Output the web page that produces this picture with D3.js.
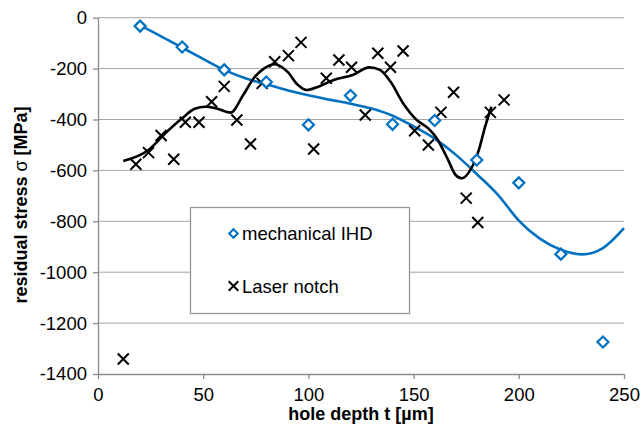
<!DOCTYPE html>
<html>
<head>
<meta charset="utf-8">
<script src="https://cdn.jsdelivr.net/npm/d3@7"></script>
<style>
body { margin: 0; background: #fff; }
text { font-family: "Liberation Sans", Arial, sans-serif; }
</style>
</head>
<body>
<div id="chart-container"></div>
<script>
// mechanical IHD measurements
const ihdDepth = [20, 40, 60, 80, 100, 120, 140, 160, 180, 200, 220, 240];
const ihdStress = [-33, -115, -205, -253, -421, -306, -419, -404, -559, -649, -929, -1274];

// laser notch measurements
const laserDepth = [12, 18, 24, 30, 36, 41.5, 48, 54, 60, 66, 72.5, 78, 84, 90.5, 96.5, 102.5, 108.5,
    114.5, 120.5, 127, 133, 139, 145, 150.5, 157, 163, 169, 175, 180.5, 186.5, 193];
const laserStress = [-1341, -576, -530, -463, -556, -411, -411, -330, -270, -402, -496, -258, -173, -149, -97,
    -516, -238, -166, -195, -382, -140, -195, -131, -444, -500, -372, -293, -709, -805, -372, -323];

// smoothed lines
const ihdTrendX = [20, 30, 40, 50, 60, 70, 80, 90, 100, 110, 120, 130, 140, 150, 160, 170, 180, 190, 200, 210, 220, 230, 240, 250];
const ihdTrendY = [-30, -73, -118, -162, -205, -238, -262, -285, -305, -322, -338, -357, -385, -427, -475, -538, -614, -695, -797, -868, -912, -930, -905, -827];

const laserTrendX = [12, 24, 32, 40, 46, 51, 56, 63, 69, 74, 79, 84, 90, 95, 99, 105, 112, 121, 129, 134, 139, 145,
    151.5, 157, 161, 166, 170, 173, 177, 181, 184, 187];
const laserTrendY = [-563, -520, -454, -395, -358, -350, -356, -373, -304, -238, -199, -183, -212, -264, -284, -270,
    -245, -225, -195, -205, -251, -336, -402, -435, -474, -552, -618, -631, -598, -520, -428, -350];

const xTicks = [0, 50, 100, 150, 200, 250];
const yTicks = [0, -200, -400, -600, -800, -1000, -1200, -1400];
const seriesNames = ["mechanical IHD", "Laser notch"];

const margin = {top: 17.7, right: 16, bottom: 55, left: 98};
const width = 640 - margin.left - margin.right;
const height = 429 - margin.top - margin.bottom;

const x = d3.scaleLinear()
    .domain([0, 250])
    .range([0, width]);

const y = d3.scaleLinear()
    .domain([-1400, 0])
    .range([height, 0]);

const svg = d3.select("#chart-container")
    .append("svg")
    .attr("width", 640)
    .attr("height", 429)
    .append("g")
    .attr("transform", `translate(${margin.left},${margin.top})`);

// gridlines
svg.append("g")
    .selectAll("line")
    .data(yTicks.filter(d => d !== -1400))
    .join("line")
    .attr("x1", 0)
    .attr("x2", width)
    .attr("y1", d => y(d))
    .attr("y2", d => y(d))
    .attr("stroke", "#a6a6a6")
    .attr("stroke-width", 1);

// plain hyphen minus, no thousands comma
const fmt = d => String(d);

const yAxis = svg.append("g")
    .call(d3.axisLeft(y).tickValues(yTicks).tickFormat(fmt).tickSize(5).tickPadding(6).tickSizeOuter(0));

const xAxis = svg.append("g")
    .attr("transform", `translate(0,${height})`)
    .call(d3.axisBottom(x).tickValues(xTicks).tickFormat(fmt).tickSize(5).tickPadding(9).tickSizeOuter(0));

[xAxis, yAxis].forEach(a => {
    a.select(".domain").attr("stroke", "#8c8c8c").attr("stroke-width", 1.3);
    a.selectAll(".tick line").attr("stroke", "#8c8c8c").attr("stroke-width", 1.3);
    a.selectAll(".tick text")
        .style("font-family", "Liberation Sans, Arial, sans-serif")
        .style("font-size", "18.5px")
        .attr("fill", "#000");
});

// axis titles
svg.append("text")
    .attr("x", width / 2)
    .attr("y", 420 - margin.top)
    .attr("text-anchor", "middle")
    .style("font-size", "18px")
    .style("font-weight", "bold")
    .text("hole depth t [µm]");

const yTitle = svg.append("text")
    .attr("transform", `translate(${27 - margin.left},${205 - margin.top}) rotate(-90)`)
    .attr("text-anchor", "middle")
    .style("font-size", "18px")
    .style("font-weight", "bold");
yTitle.append("tspan").text("residual stress ");
yTitle.append("tspan").style("font-weight", "normal").text("σ");
yTitle.append("tspan").text(" [MPa]");

// smoothed lines
const line = d3.line()
    .x(d => x(d[0]))
    .y(d => y(d[1]))
    .curve(d3.curveMonotoneX);

svg.append("path")
    .datum(d3.zip(ihdTrendX, ihdTrendY))
    .attr("fill", "none")
    .attr("stroke", "#0070c0")
    .attr("stroke-width", 2.6)
    .attr("d", line);

svg.append("path")
    .datum(d3.zip(laserTrendX, laserTrendY))
    .attr("fill", "none")
    .attr("stroke", "#000")
    .attr("stroke-width", 2.6)
    .attr("d", line);

// markers
const diamond = s => `M0,${-s}L${s},0L0,${s}L${-s},0Z`;
const cross = s => `M${-s},${-s}L${s},${s}M${-s},${s}L${s},${-s}`;

svg.append("g")
    .selectAll("path")
    .data(d3.zip(laserDepth, laserStress))
    .join("path")
    .attr("transform", d => `translate(${x(d[0])},${y(d[1])})`)
    .attr("d", cross(5.5))
    .attr("stroke", "#000")
    .attr("stroke-width", 2)
    .attr("fill", "none");

svg.append("g")
    .selectAll("path")
    .data(d3.zip(ihdDepth, ihdStress))
    .join("path")
    .attr("transform", d => `translate(${x(d[0])},${y(d[1])})`)
    .attr("d", diamond(5.5))
    .attr("stroke", "#0070c0")
    .attr("stroke-width", 2.2)
    .attr("fill", "#fff");

// legend
const legend = svg.append("g")
    .attr("transform", `translate(${190 - margin.left},${207 - margin.top})`);

legend.append("rect")
    .attr("x", 0.5)
    .attr("y", 0.5)
    .attr("width", 219)
    .attr("height", 106)
    .attr("fill", "#fff")
    .attr("stroke", "#969696")
    .attr("stroke-width", 1.3);

legend.append("path")
    .attr("transform", "translate(43.5,26.5)")
    .attr("d", diamond(4.3))
    .attr("stroke", "#0070c0")
    .attr("stroke-width", 2)
    .attr("fill", "#fff");

legend.append("path")
    .attr("transform", "translate(43.5,79)")
    .attr("d", cross(4.8))
    .attr("stroke", "#000")
    .attr("stroke-width", 2)
    .attr("fill", "none");

legend.selectAll("text")
    .data(seriesNames)
    .join("text")
    .attr("x", 52)
    .attr("y", (d, i) => 33 + i * 52.5)
    .style("font-size", "18.5px")
    .text(d => d);
</script>
</body>
</html>
